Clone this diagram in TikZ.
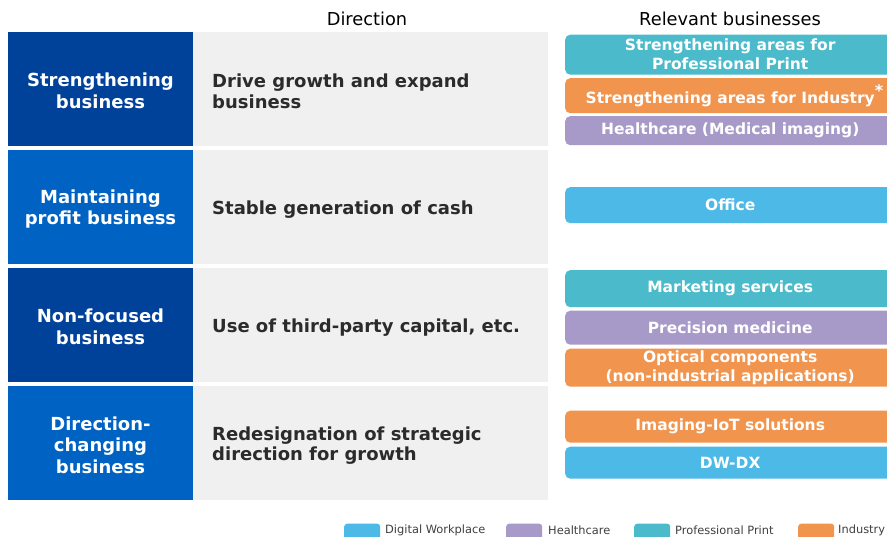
\documentclass[tikz,border=0pt]{standalone}
\usepackage{fontspec}
\setmainfont{DejaVu Sans}
\definecolor{darkcat}{HTML}{00419A}
\definecolor{midcat}{HTML}{0062C2}
\definecolor{dirgray}{HTML}{F0F0F0}
\definecolor{dirtext}{HTML}{2B2B2B}
\definecolor{dwblue}{HTML}{4CB9E7}
\definecolor{hcpurple}{HTML}{A89AC8}
\definecolor{ppteal}{HTML}{4BBBCB}
\definecolor{indorange}{HTML}{F0944E}
\tikzset{
  catbox/.style={anchor=north west, inner sep=0pt, minimum width=185pt, minimum height=114pt},
  catlabel/.style={inner sep=0pt, text=white, align=center, font=\fontsize{18}{21.5}\selectfont\bfseries},
  dirbox/.style={anchor=north west, inner sep=0pt, minimum width=355pt, minimum height=114pt, fill=dirgray},
  dirlabel/.style={anchor=west, inner sep=0pt, text=dirtext, align=left, font=\fontsize{18}{20.5}\selectfont\bfseries},
  bizbox/.style={anchor=north west, inner sep=0pt, minimum width=330pt, rounded corners=5pt,
    text=white, align=center, font=\fontsize{15.5}{19}\selectfont\bfseries},
  header/.style={inner sep=0pt, text=black, font=\fontsize{17.8}{20}\selectfont},
  swatch/.style={anchor=north west, inner sep=0pt, minimum width=36pt, minimum height=18pt, rounded corners=3pt},
  legtext/.style={anchor=west, inner sep=0pt, text=black!75, font=\fontsize{11.4}{13}\selectfont},
}
\begin{document}
\begin{tikzpicture}[x=1pt,y=-1pt]
\clip (0,0) rectangle (887,537);
\fill[white] (0,0) rectangle (887,537);
% headers
\node[header] (hdir) at (367,18.5) {Direction};
\node[header] (hrel) at (730,18.5) {Relevant businesses};
% category boxes
\node[catbox, fill=darkcat] (c1) at (8,32) {};
\node[catbox, fill=midcat] (c2) at (8,150) {};
\node[catbox, fill=darkcat] (c3) at (8,268) {};
\node[catbox, fill=midcat] (c4) at (8,386) {};
\node[catlabel] (cl1) at (100.5,91) {Strengthening\\business};
\node[catlabel] (cl2) at (100.5,209) {Maintaining\\profit business};
\node[catlabel] (cl3) at (100.5,327) {Non-focused\\business};
\node[catlabel] (cl4) at (100.5,445) {Direction-\\changing\\business};
% direction boxes
\node[dirbox] (d1) at (193,32) {};
\node[dirbox] (d2) at (193,150) {};
\node[dirbox] (d3) at (193,268) {};
\node[dirbox] (d4) at (193,386) {};
\node[dirlabel] (t1) at (212,91.5) {Drive growth and expand\\business};
\node[dirlabel] (t2) at (212,209.5) {Stable generation of cash};
\node[dirlabel] (t3) at (212,327.5) {Use of third-party capital, etc.};
\node[dirlabel] (t4) at (212,445.5) {Redesignation of strategic\\direction for growth};
% relevant businesses
\node[bizbox, fill=ppteal, minimum height=40pt] (b1) at (565,34.5) {Strengthening areas for\\Professional Print};
\node[bizbox, fill=indorange, minimum height=35pt] (b2) at (565,78) {Strengthening areas for Industry\rlap{\raisebox{0.5em}{\fontsize{16}{16}\selectfont *}}};
\node[bizbox, fill=hcpurple, minimum height=29pt] (b3) at (565,116) {Healthcare (Medical imaging)};
\node[bizbox, fill=dwblue, minimum height=36pt] (b4) at (565,187) {Office};
\node[bizbox, fill=ppteal, minimum height=37pt] (b5) at (565,270) {Marketing services};
\node[bizbox, fill=hcpurple, minimum height=34pt] (b6) at (565,310.5) {Precision medicine};
\node[bizbox, fill=indorange, minimum height=38pt] (b7) at (565,348.5) {Optical components\\(non-industrial applications)};
\node[bizbox, fill=indorange, minimum height=32pt] (b8) at (565,410.5) {Imaging-IoT solutions};
\node[bizbox, fill=dwblue, minimum height=32pt] (b9) at (565,446.5) {DW-DX};
% legend
\node[swatch, fill=dwblue] (s1) at (344,523.5) {};
\node[legtext] (l1) at (385,530.5) {Digital Workplace};
\node[swatch, fill=hcpurple] (s2) at (506,523.5) {};
\node[legtext] (l2) at (548,530.5) {Healthcare};
\node[swatch, fill=ppteal] (s3) at (634,523.5) {};
\node[legtext] (l3) at (675,530) {Professional Print};
\node[swatch, fill=indorange] (s4) at (798,523.5) {};
\node[legtext] (l4) at (838,530) {Industry};
\end{tikzpicture}
\end{document}
